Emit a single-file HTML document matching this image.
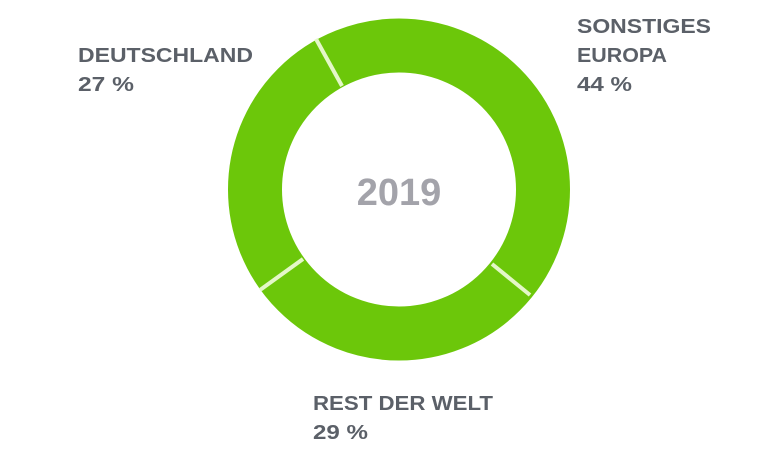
<!DOCTYPE html>
<html><head><meta charset="utf-8"><style>
html,body{margin:0;padding:0;background:#fff;}
svg{display:block}
text{font-family:"Liberation Sans",Arial,sans-serif;font-weight:bold;}
</style></head><body>
<svg width="768" height="451" viewBox="0 0 768 451">
<circle cx="399" cy="189.5" r="144" fill="none" stroke="#6cc70a" stroke-width="54"/>
<g stroke="#e4f7c8" stroke-width="4">
<line x1="342" y1="86" x2="316" y2="39"/>
<line x1="303" y1="259" x2="260" y2="290"/>
<line x1="492" y1="264" x2="530" y2="295"/>
</g>
<text x="399" y="205" text-anchor="middle" font-size="38" fill="#a3a3aa">2019</text>
<g fill="#5b6068" font-size="20">
<text x="78" y="62" textLength="175" lengthAdjust="spacingAndGlyphs">DEUTSCHLAND</text>
<text x="78" y="91" textLength="56" lengthAdjust="spacingAndGlyphs">27 %</text>
<text x="577" y="33" textLength="134" lengthAdjust="spacingAndGlyphs">SONSTIGES</text>
<text x="577" y="62" textLength="90" lengthAdjust="spacingAndGlyphs">EUROPA</text>
<text x="577" y="91" textLength="55" lengthAdjust="spacingAndGlyphs">44 %</text>
<text x="313" y="410" textLength="180" lengthAdjust="spacingAndGlyphs">REST DER WELT</text>
<text x="313" y="439" textLength="55" lengthAdjust="spacingAndGlyphs">29 %</text>
</g>
</svg>
</body></html>
